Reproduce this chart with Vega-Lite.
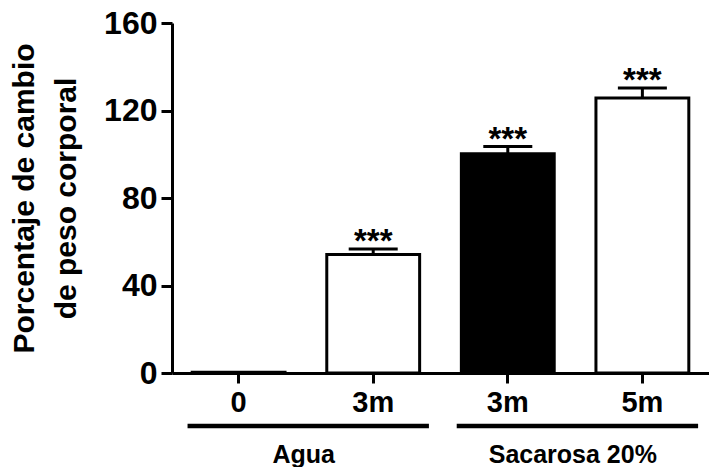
{
  "$schema": "https://vega.github.io/schema/vega-lite/v6.json",
  "padding": {"left": 9, "top": 7, "right": 0, "bottom": 0},
  "config": {"view": {"stroke": null}, "font": "Liberation Sans", "concat": {"spacing": 6}},
  "datasets": {
    "barras": [
      {"tratamiento": "Agua|0", "valor": 0.3, "superior": null, "sig": ""},
      {"tratamiento": "Agua|3m", "valor": 54.2, "superior": 56.7, "sig": "***"},
      {"tratamiento": "Sacarosa 20%|3m", "valor": 100.2, "superior": 103.5, "sig": "***"},
      {"tratamiento": "Sacarosa 20%|5m", "valor": 125.7, "superior": 130.3, "sig": "***"}
    ],
    "grupos": [
      {"grupo": "Agua", "inicio": "Agua|0", "fin": "Agua|3m"},
      {"grupo": "Sacarosa 20%", "inicio": "Sacarosa 20%|3m", "fin": "Sacarosa 20%|5m"}
    ]
  },
  "resolve": {"scale": {"x": "shared"}},
  "vconcat": [
    {
      "width": 537,
      "height": 350,
      "data": {"name": "barras"},
      "encoding": {
        "x": {
          "field": "tratamiento", "type": "nominal", "sort": null,
          "scale": {"domain": ["Agua|0", "Agua|3m", "Sacarosa 20%|3m", "Sacarosa 20%|5m"], "paddingInner": 0.31, "paddingOuter": 0.15},
          "axis": {
            "title": null, "labelExpr": "split(datum.label, '|')[1]", "labelAngle": 0,
            "labelFontSize": 29, "labelFontWeight": "bold", "labelColor": "black", "labelPadding": 5,
            "tickSize": 10, "tickWidth": 3, "tickColor": "black", "domainWidth": 3, "domainColor": "black", "grid": false
          }
        }
      },
      "layer": [
        {
          "mark": {"type": "bar", "stroke": "black", "strokeWidth": 3},
          "encoding": {
            "y": {
              "field": "valor", "type": "quantitative",
              "scale": {"domain": [0, 160], "nice": false},
              "axis": {
                "values": [0, 40, 80, 120, 160],
                "title": ["Porcentaje de cambio", "de peso corporal"],
                "titleFontSize": 30, "titleFontWeight": "bold", "titleColor": "black", "titlePadding": 22, "titleLineHeight": 42,
                "labelFontSize": 32, "labelFontWeight": "bold", "labelColor": "black", "labelPadding": 4,
                "tickSize": 11, "tickWidth": 3, "tickColor": "black", "domainWidth": 3, "domainColor": "black", "grid": false
              }
            },
            "fill": {"condition": {"test": "datum.tratamiento === 'Sacarosa 20%|3m'", "value": "black"}, "value": "white"}
          }
        },
        {
          "mark": {"type": "rule", "strokeWidth": 3, "color": "black"},
          "encoding": {
            "y": {"field": "valor", "type": "quantitative"},
            "y2": {"field": "superior"}
          }
        },
        {
          "mark": {"type": "tick", "thickness": 3, "size": 49, "color": "black", "opacity": 1},
          "encoding": {
            "y": {"field": "superior", "type": "quantitative"}
          }
        },
        {
          "mark": {"type": "text", "fontSize": 33, "fontWeight": "bold", "color": "black", "baseline": "alphabetic", "dy": 3, "letterSpacing": 2},
          "encoding": {
            "y": {"field": "superior", "type": "quantitative"},
            "text": {"field": "sig"}
          }
        }
      ]
    },
    {
      "width": 537,
      "height": 37,
      "data": {"name": "grupos"},
      "layer": [
        {
          "mark": {"type": "rule", "strokeWidth": 4.5, "color": "black"},
          "encoding": {
            "x": {
              "field": "inicio", "type": "nominal", "sort": null, "bandPosition": -0.05,
              "scale": {"domain": ["Agua|0", "Agua|3m", "Sacarosa 20%|3m", "Sacarosa 20%|5m"], "paddingInner": 0.31, "paddingOuter": 0.15},
              "axis": null
            },
            "x2": {"field": "fin", "bandPosition": 1.1},
            "y": {"datum": 1, "type": "quantitative", "scale": {"domain": [0, 1]}, "axis": null}
          }
        },
        {
          "mark": {"type": "text", "fontSize": 25, "fontWeight": "bold", "color": "black", "baseline": "alphabetic"},
          "encoding": {
            "x": {
              "field": "inicio", "type": "nominal", "sort": null, "bandPosition": 1.2,
              "scale": {"domain": ["Agua|0", "Agua|3m", "Sacarosa 20%|3m", "Sacarosa 20%|5m"], "paddingInner": 0.31, "paddingOuter": 0.15},
              "axis": null
            },
            "y": {"datum": 0, "type": "quantitative", "scale": {"domain": [0, 1]}, "axis": null},
            "text": {"field": "grupo"}
          }
        }
      ]
    }
  ]
}
